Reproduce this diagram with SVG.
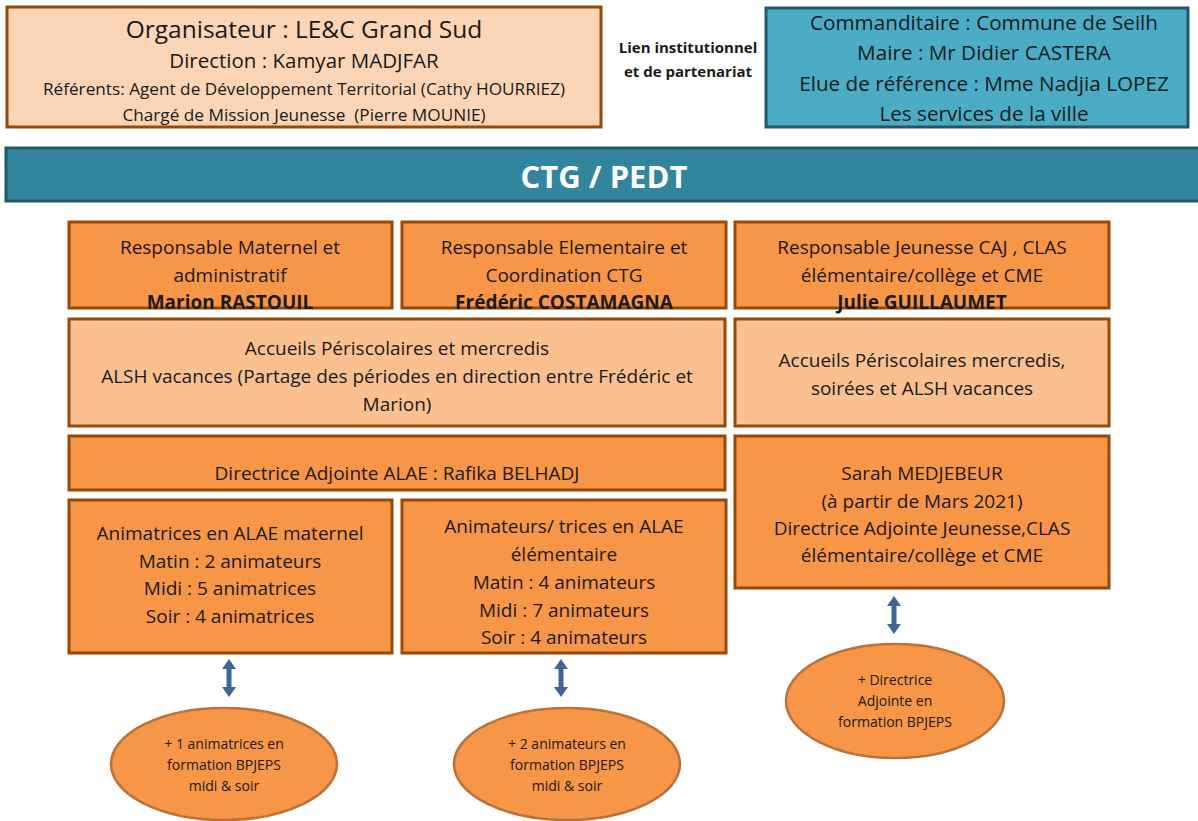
<svg xmlns="http://www.w3.org/2000/svg" width="1198" height="821" viewBox="0 0 1198 821">
<defs>
<style>
text{font-family:"Open Sans","Liberation Sans",sans-serif;fill:#1a1a1a;text-anchor:middle}
.box{fill:#f79646;stroke:#984807;stroke-width:3}
.lbox{fill:#fac090;stroke:#984807;stroke-width:3}
.ell{fill:#f79646;stroke:#b9733a;stroke-width:2.5}
.t{font-size:19px}
.b{font-weight:bold}
.s{font-size:14px}
.arr{fill:#3f6795}
</style>
<path id="dbl" d="M0,-19 L7,-9 L2.5,-9 L2.5,9 L7,9 L0,19 L-7,9 L-2.5,9 L-2.5,-9 L-7,-9 Z"/>
</defs>
<rect width="1198" height="821" fill="#ffffff"/>

<g id="organisateur">
<rect x="7" y="7" width="594" height="120" fill="#fbd5b5" stroke="#984807" stroke-width="3"/>
<text x="304" y="38" font-size="24.5">Organisateur : LE&amp;C Grand Sud</text>
<text x="304" y="68" font-size="20.5">Direction : Kamyar MADJFAR</text>
<text x="304" y="95" font-size="17.2">Référents: Agent de Développement Territorial (Cathy HOURRIEZ)</text>
<text x="304" y="121" font-size="17.2" xml:space="preserve">Chargé de Mission Jeunesse  (Pierre MOUNIE)</text>
</g>

<g id="lien">
<text x="688" y="53" font-size="15" class="b">Lien institutionnel</text>
<text x="688" y="77" font-size="15" class="b">et de partenariat</text>
</g>

<g id="commanditaire">
<rect x="766" y="8" width="422" height="119" fill="#4bacc6" stroke="#215968" stroke-width="3"/>
<text x="984" y="30" font-size="20.7">Commanditaire : Commune de Seilh</text>
<text x="984" y="60" font-size="20.7">Maire : Mr Didier CASTERA</text>
<text x="984" y="91" font-size="20.7">Elue de référence : Mme Nadjia LOPEZ</text>
<text x="984" y="121" font-size="20.7">Les services de la ville</text>
</g>

<g id="ctg">
<rect x="6" y="148" width="1196" height="53" fill="#31859c" stroke="#215967" stroke-width="3"/>
<text x="604" y="188" font-size="31" class="b" style="fill:#ffffff">CTG / PEDT</text>
</g>

<g id="resp-maternel">
<rect class="box" x="69" y="222" width="323" height="86"/>
<text class="t" x="230" y="254">Responsable Maternel et</text>
<text class="t" x="230" y="282">administratif</text>
<text class="t b" x="230" y="309">Marion RASTOUIL</text>
</g>

<g id="resp-elementaire">
<rect class="box" x="402" y="222" width="324" height="86"/>
<text class="t" x="564" y="254">Responsable Elementaire et</text>
<text class="t" x="564" y="282">Coordination CTG</text>
<text class="t b" x="564" y="309">Frédéric COSTAMAGNA</text>
</g>

<g id="resp-jeunesse">
<rect class="box" x="735" y="222" width="374" height="86"/>
<text class="t" x="922" y="254">Responsable Jeunesse CAJ , CLAS</text>
<text class="t" x="922" y="282">élémentaire/collège et CME</text>
<text class="t b" x="922" y="309">Julie GUILLAUMET</text>
</g>

<g id="accueils-gauche">
<rect class="lbox" x="69" y="319" width="656" height="107"/>
<text class="t" x="397" y="355">Accueils Périscolaires et mercredis</text>
<text class="t" x="397" y="383">ALSH vacances (Partage des périodes en direction entre Frédéric et</text>
<text class="t" x="397" y="411">Marion)</text>
</g>

<g id="accueils-droite">
<rect class="lbox" x="735" y="319" width="374" height="107"/>
<text class="t" x="922" y="367">Accueils Périscolaires mercredis,</text>
<text class="t" x="922" y="395">soirées et ALSH vacances</text>
</g>

<g id="directrice-alae">
<rect class="box" x="69" y="436" width="656" height="54"/>
<text class="t" x="397" y="480">Directrice Adjointe ALAE : Rafika BELHADJ</text>
</g>

<g id="sarah">
<rect class="box" x="735" y="436" width="374" height="152"/>
<text class="t" x="922" y="480">Sarah MEDJEBEUR</text>
<text class="t" x="922" y="508">(à partir de Mars 2021)</text>
<text class="t" x="922" y="535">Directrice Adjointe Jeunesse,CLAS</text>
<text class="t" x="922" y="562">élémentaire/collège et CME</text>
</g>

<g id="animatrices-maternel">
<rect class="box" x="69" y="500" width="323" height="153"/>
<text class="t" x="230" y="540">Animatrices en ALAE maternel</text>
<text class="t" x="230" y="568">Matin : 2 animateurs</text>
<text class="t" x="230" y="595">Midi : 5 animatrices</text>
<text class="t" x="230" y="623">Soir : 4 animatrices</text>
</g>

<g id="animateurs-elementaire">
<rect class="box" x="402" y="500" width="324" height="153"/>
<text class="t" x="564" y="533">Animateurs/ trices en ALAE</text>
<text class="t" x="564" y="561">élémentaire</text>
<text class="t" x="564" y="589">Matin : 4 animateurs</text>
<text class="t" x="564" y="617">Midi : 7 animateurs</text>
<text class="t" x="564" y="644">Soir : 4 animateurs</text>
</g>

<g id="connectors">
<use href="#dbl" class="arr" x="229" y="678"/>
<use href="#dbl" class="arr" x="561" y="678"/>
<use href="#dbl" class="arr" x="894" y="615"/>
</g>

<g id="formation-maternel">
<ellipse class="ell" cx="224" cy="764" rx="113" ry="56"/>
<text class="s" x="224" y="749">+ 1 animatrices en</text>
<text class="s" x="224" y="770">formation BPJEPS</text>
<text class="s" x="224" y="791">midi &amp; soir</text>
</g>

<g id="formation-elementaire">
<ellipse class="ell" cx="567" cy="764" rx="113" ry="56"/>
<text class="s" x="567" y="749">+ 2 animateurs en</text>
<text class="s" x="567" y="770">formation BPJEPS</text>
<text class="s" x="567" y="791">midi &amp; soir</text>
</g>

<g id="formation-jeunesse">
<ellipse class="ell" cx="895" cy="701" rx="109" ry="57"/>
<text class="s" x="895" y="685">+ Directrice</text>
<text class="s" x="895" y="706">Adjointe en</text>
<text class="s" x="895" y="727">formation BPJEPS</text>
</g>
</svg>
